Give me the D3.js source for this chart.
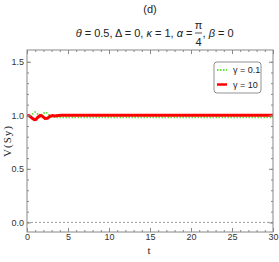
<!DOCTYPE html>
<html><head>
<meta charset="utf-8">
<script src="https://d3js.org/d3.v7.min.js"></script>
<style>
  body { margin: 0; background: #fff; }
  text { font-family: "Liberation Sans", Arial, sans-serif; }
</style>
</head>
<body>
<svg id="chart" width="279" height="262"></svg>
<script>

// values
const tGreen = [0, 0.4, 0.8, 1.0, 1.2, 1.6, 2.0, 2.3, 2.6, 3.0, 3.5, 4, 5, 10, 15, 20, 25, 30];
const vGreen = [0.99, 0.99, 1.02, 1.03, 1.02, 0.99, 1.02, 1.03, 1.01, 0.985, 0.982, 0.982, 0.982, 0.982, 0.982, 0.982, 0.982, 0.982];

const tRed = [0, 0.3, 0.6, 0.9, 1.1, 1.3, 1.6, 1.9, 2.2, 2.5, 2.8, 3.1, 3.4, 3.8, 4.2, 5, 10, 15, 20, 25, 30];
const vRed = [1.0, 0.995, 0.975, 0.96, 0.962, 0.98, 0.998, 0.99, 0.97, 0.972, 0.99, 0.998, 0.993, 0.998, 1.0, 1.0, 1.0, 1.0, 1.0, 1.0, 1.0];

const xTicks = [0, 5, 10, 15, 20, 25, 30];
const yTicks = [0.0, 0.5, 1.0, 1.5];
const legendLabels = ["γ = 0.1", "γ = 10"];

const svg = d3.select("svg#chart");
const margin = {top: 50, right: 6, bottom: 30, left: 27};
const width = 279, height = 262;
const plotW = width - margin.left - margin.right;
const plotH = height - margin.top - margin.bottom;

const xScale = d3.scaleLinear().domain([0, 30]).range([0, plotW]);
const yScale = d3.scaleLinear().domain([-0.09, 1.61]).range([plotH, 0]);

const plot = svg.append("g").attr("transform", "translate(" + margin.left + "," + margin.top + ")");

// zero reference line
plot.append("line")
  .attr("x1", 0).attr("x2", plotW)
  .attr("y1", yScale(0)).attr("y2", yScale(0))
  .attr("stroke", "#999").attr("stroke-width", 1)
  .attr("stroke-dasharray", "2,2");

// curves
let line = d3.line().x(d => xScale(d[0])).y(d => yScale(d[1]));

plot.append("path")
  .datum(tGreen.map((t, i) => [t, vGreen[i]]))
  .attr("d", line)
  .attr("fill", "none")
  .attr("stroke", "#5fe03a")
  .attr("stroke-width", 1.8)
  .attr("stroke-dasharray", "1.5,1.5");

plot.append("path")
  .datum(tRed.map((t, i) => [t, vRed[i]]))
  .attr("d", line)
  .attr("fill", "none")
  .attr("stroke", "#ff0000")
  .attr("stroke-width", 3);

// frame with ticks pointing inward
const frameColor = "#888";
const xMinor = d3.range(0, 31, 1);
const yMinor = d3.range(0, 16, 1).map(d => d / 10);

function styleAxis(g) {
  g.selectAll(".domain").remove();
  g.selectAll(".tick line").attr("stroke", frameColor);
  g.selectAll(".tick text").attr("fill", "#333").style("font-size", "9px");
}

plot.append("g").attr("transform", "translate(0," + plotH + ")")
  .call(d3.axisBottom(xScale).tickValues(xMinor).tickSize(-2).tickFormat("")).call(styleAxis);
plot.append("g").attr("transform", "translate(0," + plotH + ")")
  .call(d3.axisBottom(xScale).tickValues(xTicks).tickSize(-4).tickPadding(2).tickFormat(d3.format("d"))).call(styleAxis);
plot.append("g")
  .call(d3.axisTop(xScale).tickValues(xMinor).tickSize(-2).tickFormat("")).call(styleAxis);
plot.append("g")
  .call(d3.axisTop(xScale).tickValues(xTicks).tickSize(-4).tickFormat("")).call(styleAxis);

plot.append("g")
  .call(d3.axisLeft(yScale).tickValues(yMinor).tickSize(-2).tickFormat("")).call(styleAxis);
plot.append("g")
  .call(d3.axisLeft(yScale).tickValues(yTicks).tickSize(-4).tickPadding(3).tickFormat(d3.format(".1f"))).call(styleAxis);
plot.append("g").attr("transform", "translate(" + plotW + ",0)")
  .call(d3.axisRight(yScale).tickValues(yMinor).tickSize(-2).tickFormat("")).call(styleAxis);
plot.append("g").attr("transform", "translate(" + plotW + ",0)")
  .call(d3.axisRight(yScale).tickValues(yTicks).tickSize(-4).tickFormat("")).call(styleAxis);

plot.append("rect")
  .attr("width", plotW).attr("height", plotH)
  .attr("fill", "none").attr("stroke", frameColor).attr("stroke-width", 1);

// legend
const legend = svg.append("g").attr("transform", "translate(214,62)");
legend.append("rect")
  .attr("width", 47).attr("height", 31).attr("rx", 3)
  .attr("fill", "#fff").attr("stroke", "#777").attr("stroke-width", 0.8);
legend.append("line").attr("x1", 3).attr("x2", 13).attr("y1", 8).attr("y2", 8)
  .attr("stroke", "#5fe03a").attr("stroke-width", 1.8).attr("stroke-dasharray", "1.5,1.5");
legend.append("line").attr("x1", 3).attr("x2", 13).attr("y1", 22.5).attr("y2", 22.5)
  .attr("stroke", "#ff0000").attr("stroke-width", 2.5);
legendLabels.forEach((lab, i) => {
  legend.append("text").attr("x", 19).attr("y", 11 + i * 14.5)
    .style("font-size", "9px").attr("fill", "#222").text(lab);
});

// titles
svg.append("text").attr("x", 150).attr("y", 13).attr("text-anchor", "middle")
  .style("font-size", "11px").attr("fill", "#222").text("(d)");

const title = svg.append("g").attr("fill", "#222").style("font-size", "11px");
let tt = title.append("text").attr("x", 192.5).attr("y", 37).attr("text-anchor", "end");
tt.append("tspan").style("font-style", "italic").text("θ");
tt.append("tspan").text(" = 0.5, Δ = 0, ");
tt.append("tspan").style("font-style", "italic").text("κ");
tt.append("tspan").text(" = 1, ");
tt.append("tspan").style("font-style", "italic").text("α");
tt.append("tspan").text(" =");
title.append("text").attr("x", 198.5).attr("y", 29).attr("text-anchor", "middle").text("π");
title.append("line").attr("x1", 195).attr("x2", 202).attr("y1", 33).attr("y2", 33)
  .attr("stroke", "#222").attr("stroke-width", 0.8);
title.append("text").attr("x", 198.5).attr("y", 46).attr("text-anchor", "middle").text("4");
let t2 = title.append("text").attr("x", 202.5).attr("y", 37);
t2.append("tspan").text(", ");
t2.append("tspan").style("font-style", "italic").text("β");
t2.append("tspan").text(" = 0");

// axis labels
svg.append("text").attr("x", 149).attr("y", 254).attr("text-anchor", "middle")
  .style("font-size", "11px").style("font-family", "'Liberation Serif', serif").attr("fill", "#222").text("t");
svg.append("text").attr("transform", "translate(11,141) rotate(-90)").attr("text-anchor", "middle")
  .style("font-size", "11px").style("font-family", "'Liberation Serif', serif")
  .style("letter-spacing", "1px").attr("fill", "#222").text("V(Sy)");

</script>
</body>
</html>
